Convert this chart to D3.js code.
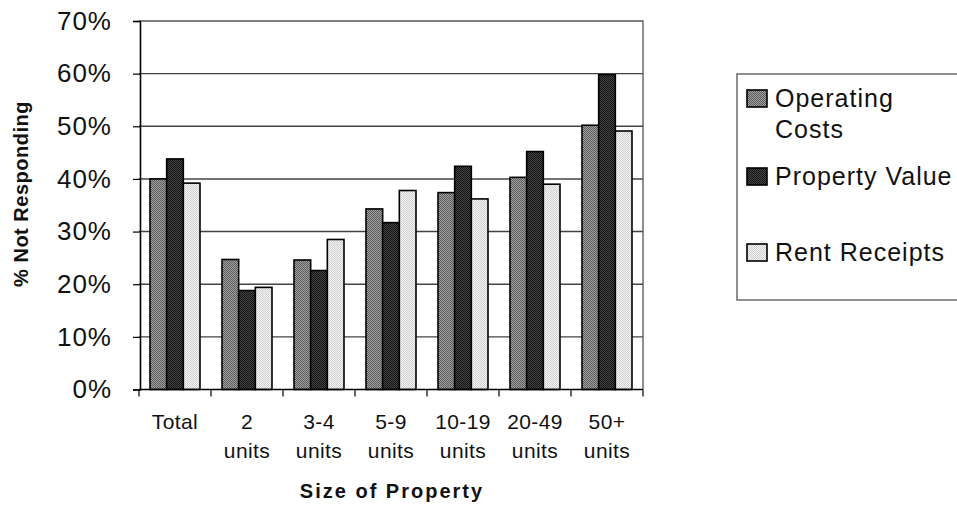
<!DOCTYPE html>
<html>
<head>
<meta charset="utf-8">
<script src="https://cdn.jsdelivr.net/npm/d3@7"></script>
<style>
  html, body { margin: 0; padding: 0; background: #fff; }
  svg { display: block; }
  text { font-family: "Liberation Sans", Arial, Helvetica, sans-serif; fill: #111; }
</style>
</head>
<body>
<svg id="chart" width="957" height="506"></svg>
<script>
// Non-response rates by property size
const categories = ["Total", "2 units", "3-4 units", "5-9 units", "10-19 units", "20-49 units", "50+ units"];
const categoryLines = [["Total"], ["2", "units"], ["3-4", "units"], ["5-9", "units"], ["10-19", "units"], ["20-49", "units"], ["50+", "units"]];
const seriesNames = ["Operating Costs", "Property Value", "Rent Receipts"];
const operatingCosts = [40.0, 24.7, 24.6, 34.3, 37.4, 40.3, 50.2];
const propertyValue  = [43.8, 18.8, 22.6, 31.7, 42.4, 45.2, 59.8];
const rentReceipts   = [39.2, 19.4, 28.5, 37.8, 36.2, 39.0, 49.1];
const yTicks = [0, 10, 20, 30, 40, 50, 60, 70];
const legendLines = [["Operating", "Costs"], ["Property Value"], ["Rent Receipts"]];

const seriesValues = [operatingCosts, propertyValue, rentReceipts];

const svg = d3.select("#chart");
const plot = { left: 139, right: 643, top: 21, bottom: 389.5 };

// halftone-like fills
const defs = svg.append("defs");
const fills = [
  { id: "fillOC", a: "#5a5a5a", b: "#a2a2a2" },
  { id: "fillPV", a: "#121212", b: "#474747" },
  { id: "fillRR", a: "#cfcfcf", b: "#f4f4f4" }
];
fills.forEach(f => {
  const p = defs.append("pattern").attr("id", f.id).attr("patternUnits", "userSpaceOnUse")
    .attr("width", 2).attr("height", 2);
  p.append("rect").attr("width", 2).attr("height", 2).attr("fill", f.b);
  p.append("rect").attr("width", 1).attr("height", 1).attr("fill", f.a);
  p.append("rect").attr("x", 1).attr("y", 1).attr("width", 1).attr("height", 1).attr("fill", f.a);
});

const x0 = d3.scaleBand().domain(categories).range([plot.left, plot.right])
  .paddingInner(0.306).paddingOuter(0.153);
const x1 = d3.scaleBand().domain(seriesNames).range([0, x0.bandwidth()]);
const y = d3.scaleLinear().domain([0, 70]).range([plot.bottom, plot.top]);

// gridlines
svg.append("g").selectAll("line").data(yTicks.filter(t => t > 0 && t < 70)).join("line")
  .attr("x1", plot.left).attr("x2", plot.right)
  .attr("y1", d => y(d)).attr("y2", d => y(d))
  .attr("stroke", "#444").attr("stroke-width", 1.4);

// top and right frame
svg.append("path")
  .attr("d", `M${plot.left},${y(70)}H${plot.right}V${plot.bottom}`)
  .attr("fill", "none").attr("stroke", "#555").attr("stroke-width", 1.3);

// bars
const groups = svg.append("g").selectAll("g").data(categories).join("g")
  .attr("transform", d => `translate(${x0(d)},0)`);
groups.selectAll("rect")
  .data((c, i) => seriesNames.map((s, k) => ({ s, k, v: seriesValues[k][i] })))
  .join("rect")
  .attr("x", d => x1(d.s))
  .attr("y", d => y(d.v))
  .attr("width", x1.bandwidth())
  .attr("height", d => y(0) - y(d.v))
  .attr("fill", d => `url(#${fills[d.k].id})`)
  .attr("stroke", "#000").attr("stroke-width", 1.6);

// y axis
const yAxis = svg.append("g").attr("transform", `translate(${plot.left + 1},0)`)
  .call(d3.axisLeft(y).tickValues(yTicks).tickFormat(d => d + "%").tickSize(7).tickPadding(21));
yAxis.select(".domain").attr("stroke", "#000").attr("stroke-width", 1.6);
yAxis.selectAll(".tick line").attr("stroke", "#000").attr("stroke-width", 1.2);
yAxis.selectAll(".tick text").attr("font-size", 26).style("letter-spacing", "1px")
  .attr("font-family", "'Liberation Sans', Arial, Helvetica, sans-serif").attr("fill", "#111");

// x axis with ticks on category boundaries
const xAxis = svg.append("g");
xAxis.append("line").attr("x1", plot.left).attr("x2", plot.right)
  .attr("y1", plot.bottom).attr("y2", plot.bottom).attr("stroke", "#000").attr("stroke-width", 1.6);
const boundaries = d3.range(categories.length + 1).map(i => x0.range()[0] + i * x0.step());
xAxis.selectAll("line.tick").data(boundaries).join("line").attr("class", "tick")
  .attr("x1", d => d).attr("x2", d => d)
  .attr("y1", plot.bottom).attr("y2", plot.bottom + 7)
  .attr("stroke", "#000").attr("stroke-width", 1.2);

const catLabels = svg.append("g").selectAll("text").data(categories).join("text")
  .attr("text-anchor", "middle").attr("font-size", 21).style("letter-spacing", "0.4px")
  .attr("x", d => x0(d) + x0.bandwidth() / 2).attr("y", 429);
catLabels.selectAll("tspan").data((d, i) => categoryLines[i]).join("tspan")
  .attr("x", function () { return this.parentNode.getAttribute("x"); })
  .attr("dy", (d, j) => j === 0 ? 0 : 29)
  .text(d => d);

// axis titles
svg.append("text").attr("text-anchor", "middle").attr("font-size", 20).attr("font-weight", "bold")
  .style("letter-spacing", "2px")
  .attr("x", (plot.left + plot.right) / 2 + 1).attr("y", 498).text("Size of Property");
svg.append("text").attr("text-anchor", "middle").attr("font-size", 20).attr("font-weight", "bold")
  .style("letter-spacing", "0.5px")
  .attr("transform", "translate(28,194) rotate(-90)").text("% Not Responding");

// legend
const legend = svg.append("g");
legend.append("rect").attr("x", 737).attr("y", 74).attr("width", 240).attr("height", 226)
  .attr("fill", "#fff").attr("stroke", "#555").attr("stroke-width", 1.3);
const legendBaselines = [107, 185, 261];
const legendItems = legend.selectAll("g.item").data(seriesNames).join("g").attr("class", "item");
legendItems.append("rect")
  .attr("x", 747).attr("y", (d, i) => legendBaselines[i] - 17)
  .attr("width", 20).attr("height", 17)
  .attr("fill", (d, i) => `url(#${fills[i].id})`)
  .attr("stroke", "#000").attr("stroke-width", 1.6);
const lt = legendItems.append("text").attr("x", 775).attr("y", (d, i) => legendBaselines[i])
  .attr("font-size", 25).style("letter-spacing", "1px");
lt.selectAll("tspan").data((d, i) => legendLines[i]).join("tspan")
  .attr("x", 775).attr("dy", (d, j) => j === 0 ? 0 : 31).text(d => d);
</script>
</body>
</html>
